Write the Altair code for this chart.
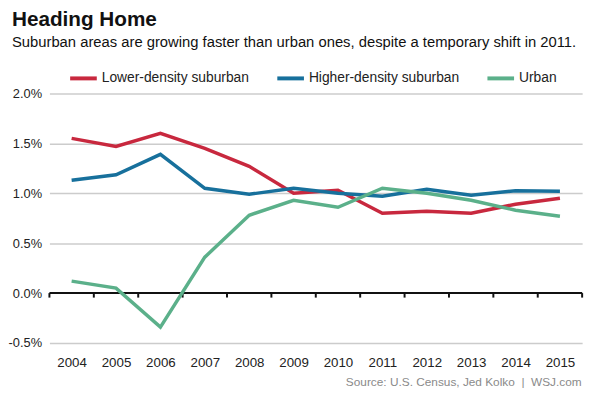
import altair as alt
import pandas as pd

years = [2004, 2005, 2006, 2007, 2008, 2009, 2010, 2011, 2012, 2013, 2014, 2015]
lower_density = [1.55, 1.47, 1.60, 1.45, 1.27, 1.00, 1.03, 0.80, 0.82, 0.80, 0.89, 0.95]
higher_density = [1.13, 1.185, 1.39, 1.05, 0.99, 1.05, 1.00, 0.97, 1.04, 0.98, 1.025, 1.02]
urban = [0.12, 0.05, -0.34, 0.36, 0.78, 0.93, 0.86, 1.05, 1.00, 0.93, 0.83, 0.77]

series_names = ["Lower-density suburban", "Higher-density suburban", "Urban"]
series_colors = ["#c8283e", "#17709c", "#5bb08a"]
tick_bounds = [2003.5 + i for i in range(13)]
y_ticks = [-0.5, 0.0, 0.5, 1.0, 1.5, 2.0]

rows = []
for name, vals in zip(series_names, [lower_density, higher_density, urban]):
    for yr, v in zip(years, vals):
        rows.append({"year": yr, "value": v, "series": name})
df = pd.DataFrame(rows)

FONT = "Liberation Sans"
NB = "\u00a0"

x_scale = alt.Scale(domain=[2003.5, 2015.5], nice=False, zero=False)
y_scale = alt.Scale(domain=[-0.5, 2.0], nice=False)

lines = alt.Chart(df).mark_line(strokeWidth=3.5).encode(
    x=alt.X("year:Q", scale=x_scale,
            axis=alt.Axis(values=years, format="d", grid=False, domain=False,
                          ticks=False, tickSize=0, labelPadding=13,
                          labelFontSize=13.5, labelColor="#222222",
                          title="Source: U.S. Census, Jed Kolko" + NB + NB + "|" + NB + NB + "WSJ.com",
                          titleFontSize=12, titleFontWeight="normal",
                          titleColor="#8a8a8a", titleAlign="right",
                          titleX=539, titleY=39, titleBaseline="middle")),
    y=alt.Y("value:Q", scale=y_scale,
            axis=alt.Axis(values=y_ticks,
                          labelExpr="(datum.value < 0 ? '-' : '') + format(abs(datum.value), '.1f') + '%'",
                          grid=True, gridColor="#cccccc", gridWidth=1.5,
                          domain=False, ticks=False, labelPadding=8,
                          labelFontSize=13, labelColor="#222222", title=None)),
    color=alt.Color("series:N",
                    scale=alt.Scale(domain=series_names, range=series_colors),
                    legend=alt.Legend(title=None, orient="none", direction="horizontal",
                                      legendX=19, legendY=-31,
                                      symbolType="stroke", symbolSize=729,
                                      symbolStrokeWidth=4, labelFontSize=14,
                                      labelColor="#222222", labelOffset=3,
                                      columnPadding=20, padding=0, labelLimit=300)),
    order=alt.Order("year:Q"),
)

zero_df = pd.DataFrame({"x": [2003.5], "x2": [2015.5], "y": [0.0]})
zero_line = alt.Chart(zero_df).mark_rule(color="#111111", strokeWidth=2).encode(
    x="x:Q", x2="x2:Q", y="y:Q"
)

ticks_df = pd.DataFrame({"x": tick_bounds, "y": [0.0] * len(tick_bounds),
                         "y2": [-0.045] * len(tick_bounds)})
tick_marks = alt.Chart(ticks_df).mark_rule(color="#111111", strokeWidth=2).encode(
    x="x:Q", y="y:Q", y2="y2:Q"
)

chart = alt.layer(zero_line, tick_marks, lines).properties(
    width=540,
    height=253,
    autosize=alt.AutoSizeParams(type="none"),
    padding={"left": 42, "top": 84, "right": 10, "bottom": 45},
    title=alt.TitleParams(
        text="Heading Home",
        subtitle="Suburban areas are growing faster than urban ones, despite a temporary shift in 2011.",
        anchor="start", frame="group", dx=-38, dy=0,
        fontSize=21, fontWeight="bold", color="#111111", font=FONT,
        subtitleFontSize=15, subtitleColor="#111111", subtitleFont=FONT,
        subtitlePadding=5, offset=13,
    ),
).configure(font=FONT).configure_view(stroke=None).configure_axis(
    labelFont=FONT, titleFont=FONT
).configure_legend(labelFont=FONT)

chart.save("out.html", embed_options={"renderer": "svg", "actions": False})
